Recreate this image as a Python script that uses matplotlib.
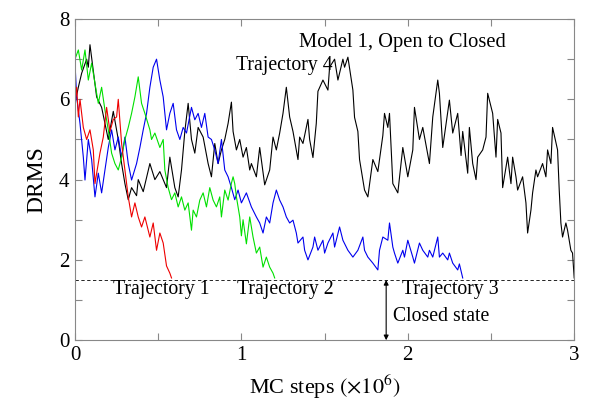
import matplotlib
matplotlib.use("Agg")
import matplotlib.pyplot as plt
from matplotlib.ticker import MultipleLocator

plt.rcParams['font.family'] = ['Liberation Serif', 'DejaVu Serif']
plt.rcParams['mathtext.fontset'] = 'stix'

# Trajectory 4 (black)
t4_x = [0.00, 0.02, 0.04, 0.07, 0.08, 0.09, 0.11, 0.13, 0.16, 0.18, 0.20, 0.23, 0.26, 0.28,
        0.30, 0.32, 0.34, 0.37, 0.38, 0.41, 0.45, 0.48, 0.51, 0.55, 0.57, 0.60, 0.62, 0.64,
        0.66, 0.68, 0.70, 0.72, 0.74, 0.77, 0.80, 0.82, 0.84, 0.86, 0.88, 0.90, 0.92, 0.94,
        0.95, 0.97, 0.99, 1.01, 1.03, 1.05, 1.06, 1.09, 1.11, 1.14, 1.17, 1.19, 1.21, 1.23,
        1.25, 1.27, 1.29, 1.31, 1.34, 1.35, 1.37, 1.40, 1.41, 1.43, 1.45, 1.46, 1.49, 1.52,
        1.53, 1.56, 1.58, 1.61, 1.62, 1.64, 1.67, 1.68, 1.70, 1.71, 1.74, 1.76, 1.79, 1.82,
        1.85, 1.86, 1.88, 1.89, 1.91, 1.94, 1.97, 2.00, 2.03, 2.04, 2.07, 2.09, 2.13, 2.15,
        2.18, 2.19, 2.21, 2.25, 2.27, 2.30, 2.32, 2.33, 2.36, 2.37, 2.39, 2.41, 2.42, 2.45,
        2.47, 2.48, 2.51, 2.53, 2.54, 2.56, 2.57, 2.60, 2.62, 2.63, 2.65, 2.66, 2.69, 2.71,
        2.72, 2.74, 2.75, 2.77, 2.78, 2.81, 2.83, 2.84, 2.86, 2.87, 2.90, 2.91, 2.92, 2.93,
        2.95, 2.96, 2.98, 2.99, 3.00]
t4_y = [5.9, 6.3, 6.65, 7.0, 6.8, 7.36, 6.7, 6.06, 5.8, 5.4, 5.0, 5.7, 5.0, 4.4,
        3.9, 3.5, 3.8, 3.6, 4.0, 3.7, 4.4, 4.0, 4.2, 3.8, 4.56, 3.8, 3.57, 4.24,
        5.2, 5.9, 5.0, 4.66, 5.3, 5.06, 4.4, 4.07, 4.9, 4.4, 4.74, 5.0, 5.4, 5.93,
        5.2, 4.74, 5.0, 4.56, 4.8, 4.24, 4.4, 4.07, 4.8, 3.87, 4.24, 5.06, 4.74, 5.16,
        5.65, 6.3, 5.56, 5.2, 4.5, 5.06, 4.9, 5.5, 5.0, 4.55, 5.4, 6.2, 6.48, 6.23,
        6.8, 7.0, 6.48, 7.0, 6.8, 7.05, 6.23, 5.55, 5.2, 4.5, 3.74, 3.57, 4.5, 4.2,
        5.1, 5.65, 5.3, 5.65, 3.9, 3.67, 4.8, 4.07, 4.74, 5.8, 5.0, 5.3, 4.4, 5.56,
        6.48, 6.15, 4.8, 5.98, 5.16, 5.65, 4.6, 5.2, 4.16, 5.3, 4.4, 4.0, 4.56, 4.74,
        5.06, 6.15, 5.65, 4.56, 5.5, 5.16, 3.8, 4.56, 3.9, 4.56, 4.07, 3.74, 4.07, 3.42,
        2.67, 3.24, 3.67, 4.24, 4.07, 4.4, 4.07, 4.74, 4.4, 5.3, 4.74, 3.74, 2.92, 2.57,
        2.92, 2.74, 2.24, 2.17, 1.55]

# Trajectory 3 (blue)
t3_x = [0.00, 0.01, 0.03, 0.05, 0.06, 0.08, 0.10, 0.12, 0.14, 0.16, 0.18, 0.20, 0.22, 0.24,
        0.26, 0.28, 0.30, 0.32, 0.34, 0.37, 0.39, 0.41, 0.43, 0.45, 0.47, 0.49, 0.51, 0.53,
        0.55, 0.57, 0.59, 0.61, 0.63, 0.65, 0.67, 0.70, 0.72, 0.74, 0.76, 0.78, 0.80, 0.82,
        0.84, 0.86, 0.88, 0.90, 0.92, 0.94, 0.96, 0.98, 1.00, 1.03, 1.06, 1.09, 1.11, 1.13,
        1.15, 1.17, 1.19, 1.21, 1.23, 1.25, 1.27, 1.29, 1.31, 1.33, 1.34, 1.37, 1.38, 1.40,
        1.43, 1.44, 1.46, 1.49, 1.50, 1.52, 1.55, 1.56, 1.59, 1.61, 1.64, 1.67, 1.70, 1.73,
        1.74, 1.76, 1.79, 1.82, 1.83, 1.85, 1.88, 1.89, 1.91, 1.92, 1.94, 1.97, 1.98, 2.00,
        2.03, 2.04, 2.07, 2.09, 2.12, 2.13, 2.15, 2.18, 2.19, 2.21, 2.24, 2.25, 2.27, 2.30,
        2.31, 2.33]
t3_y = [6.9, 6.06, 5.4, 4.56, 3.99, 5.0, 4.5, 3.57, 4.16, 3.67, 4.24, 4.8, 5.24, 4.74,
        5.06, 4.56, 5.06, 4.4, 3.99, 4.4, 4.8, 5.24, 5.65, 6.3, 6.8, 7.0, 6.48, 6.06,
        5.24, 5.65, 5.9, 5.24, 5.0, 5.3, 5.16, 5.8, 5.49, 5.65, 5.3, 5.65, 5.06, 5.0,
        4.74, 4.4, 5.0, 4.24, 4.07, 3.8, 3.5, 3.74, 3.42, 3.67, 3.32, 3.07, 2.92, 2.67,
        3.07, 2.92, 3.42, 3.74, 3.49, 3.32, 3.07, 2.92, 2.99, 2.67, 2.42, 2.57, 2.24, 2.0,
        2.32, 2.57, 2.24, 2.49, 2.17, 2.42, 2.67, 2.32, 2.82, 2.49, 2.24, 2.07, 2.24, 2.57,
        2.24, 2.07, 1.92, 1.75, 2.24, 2.57, 2.49, 2.92, 2.32, 2.17, 1.92, 2.24, 2.07, 2.49,
        2.07, 1.92, 2.42, 2.24, 2.07, 2.24, 2.07, 2.57, 2.07, 2.17, 2.0, 2.17, 1.92, 1.75,
        1.9, 1.55]

# Trajectory 2 (green)
t2_x = [0.00, 0.02, 0.04, 0.06, 0.08, 0.10, 0.12, 0.14, 0.16, 0.18, 0.20, 0.22, 0.24, 0.26,
        0.28, 0.30, 0.32, 0.34, 0.36, 0.38, 0.40, 0.42, 0.45, 0.46, 0.48, 0.51, 0.53, 0.54,
        0.56, 0.58, 0.60, 0.62, 0.64, 0.66, 0.68, 0.70, 0.71, 0.73, 0.75, 0.77, 0.79, 0.81,
        0.83, 0.85, 0.87, 0.88, 0.90, 0.92, 0.94, 0.95, 0.96, 0.97, 0.99, 1.00, 1.01, 1.03,
        1.05, 1.07, 1.09, 1.11, 1.13, 1.15, 1.17, 1.19, 1.20]
t2_y = [7.0, 7.23, 6.73, 7.23, 6.48, 6.9, 6.4, 5.9, 6.3, 5.73, 5.24, 4.66, 4.4, 4.24,
        4.56, 5.0, 5.3, 5.65, 6.06, 6.56, 5.9, 5.65, 5.24, 5.0, 5.16, 4.8, 5.0, 4.24,
        3.8, 3.5, 3.67, 3.32, 3.57, 3.24, 3.42, 2.74, 3.24, 3.07, 3.49, 3.67, 3.32, 3.8,
        3.49, 3.32, 3.57, 3.07, 3.74, 3.49, 3.91, 4.07, 3.9, 3.57, 3.07, 2.6, 3.0, 2.4,
        3.07, 2.57, 2.17, 2.32, 1.82, 2.07, 1.82, 1.67, 1.55]

# Trajectory 1 (red)
t1_x = [0.00, 0.01, 0.02, 0.03, 0.05, 0.07, 0.09, 0.11, 0.12, 0.15, 0.17, 0.19, 0.21, 0.23,
        0.25, 0.26, 0.28, 0.30, 0.32, 0.34, 0.36, 0.38, 0.40, 0.42, 0.45, 0.47, 0.49, 0.51,
        0.53, 0.55, 0.57, 0.58]
t1_y = [5.9, 6.3, 5.56, 6.0, 5.3, 5.0, 5.24, 4.74, 3.9, 4.66, 5.06, 5.8, 5.2, 5.5,
        5.56, 6.0, 4.9, 4.24, 3.57, 3.07, 3.42, 3.07, 2.82, 3.07, 2.57, 2.92, 2.24, 2.67,
        2.42, 1.85, 1.67, 1.55]

closed_threshold = 1.5

fig = plt.figure(figsize=(6.0, 4.05), dpi=100)
ax = fig.add_axes([0.125, 0.160, 0.832, 0.793])

lw = 0.8
ax.plot(t4_x, t4_y, color='black', lw=lw)
ax.plot(t3_x, t3_y, color='#0000ee', lw=lw)
ax.plot(t2_x, t2_y, color='#00e000', lw=lw)
ax.plot(t1_x, t1_y, color='#ee0000', lw=lw)

ax.axhline(closed_threshold, color='black', lw=0.6, ls=(0, (4, 3)))
ax.annotate('', xy=(1.87, 0.0), xytext=(1.87, closed_threshold),
            arrowprops=dict(arrowstyle='<|-|>', color='black', lw=0.8,
                            mutation_scale=7, shrinkA=0, shrinkB=0))

fs = 14.2
ax.text(0.23, 1.15, 'Trajectory 1', fontsize=fs, va='baseline', ha='left')
ax.text(0.975, 1.15, 'Trajectory 2', fontsize=fs, va='baseline', ha='left')
ax.text(1.965, 1.15, 'Trajectory 3', fontsize=fs, va='baseline', ha='left')
ax.text(0.965, 6.73, 'Trajectory 4', fontsize=fs, va='baseline', ha='left')
ax.text(1.345, 7.31, 'Model 1, Open to Closed', fontsize=14.8, va='baseline', ha='left')
ax.text(1.91, 0.47, 'Closed state', fontsize=fs, va='baseline', ha='left')

ax.set_xlim(0, 3)
ax.set_ylim(0, 8)
ax.xaxis.set_major_locator(MultipleLocator(1))
ax.xaxis.set_minor_locator(MultipleLocator(0.5))
ax.yaxis.set_major_locator(MultipleLocator(2))
ax.yaxis.set_minor_locator(MultipleLocator(1))
ax.tick_params(which='both', direction='in', top=True, right=True,
               colors='#888888', labelcolor='black', labelsize=15, width=0.8)
ax.tick_params(which='major', length=5, pad=4)
ax.tick_params(which='minor', length=5)
for s in ax.spines.values():
    s.set_color('#888888')
    s.set_linewidth(0.8)

ax.set_xlabel(r'MC steps $(\times 10^6)$', fontsize=16, labelpad=6)
ax.set_ylabel('DRMS', fontsize=17, labelpad=8)

fig.savefig('out.png', dpi=100)
